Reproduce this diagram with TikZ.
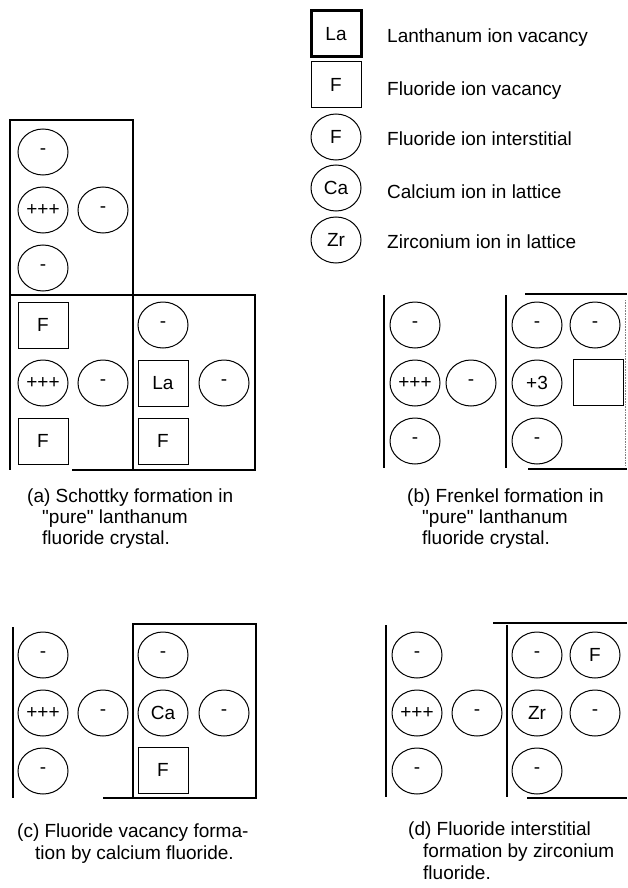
\documentclass[tikz,border=0pt]{standalone}
\usepackage{fontspec}
\setmainfont{Liberation Sans}
\usetikzlibrary{shapes.geometric}

\begin{document}
\begin{tikzpicture}[x=1pt,y=-1pt,
  font=\fontsize{19pt}{21pt}\selectfont,
  ion/.style={ellipse,draw,line width=1pt,minimum width=50pt,minimum height=46pt,inner sep=0pt},
  vac/.style={rectangle,draw,line width=1pt,minimum width=50pt,minimum height=46pt,inner sep=0pt},
  box/.style={line width=1.1pt},
  legtext/.style={anchor=base west,inner sep=0pt},
  figcap/.style={anchor=base west,inner sep=0pt}]
\useasboundingbox (0,0) rectangle (627,888);

% key
\node [vac,line width=3pt] (keyLa) at (336,34) {La};
\node [vac] (keyF) at (336,85) {F};
\node [ion] (keyFi) at (336,137) {F};
\node [ion] (keyCa) at (336,188) {Ca};
\node [ion] (keyZr) at (336,240) {Zr};
\node [legtext] (txtLa) at (387,43) {Lanthanum ion vacancy};
\node [legtext] (txtF) at (387,96) {Fluoride ion vacancy};
\node [legtext] (txtFi) at (387,146) {Fluoride ion interstitial};
\node [legtext] (txtCa) at (387,198) {Calcium ion in lattice};
\node [legtext] (txtZr) at (387,248) {Zirconium ion in lattice};

% (a) Schottky
\draw [box] (10,120) rectangle (133,295);
\draw [box] (10,295)--(10,470);
\draw [box] (133,295)--(133,470);
\draw [box] (72,470)--(255,470)--(255,295)--(10,295);

\node [ion] (a1) at (43,152) {-};
\node [ion] (a2) at (43,210) {+++};
\node [ion] (a3) at (103,210) {-};
\node [ion] (a4) at (43,268) {-};

\node [vac] (a5) at (43,325) {F};
\node [ion] (a6) at (43,383) {+++};
\node [ion] (a7) at (103,383) {-};
\node [vac] (a8) at (43,441) {F};

\node [ion] (a9) at (163,325) {-};
\node [vac] (a10) at (163,383) {La};
\node [ion] (a11) at (224,383) {-};
\node [vac] (a12) at (163,441) {F};

\node [figcap] (capa1) at (27,502) {(a) Schottky formation in};
\node [figcap] (capa2) at (42,523) {\textquotedbl pure\textquotedbl{} lanthanum};
\node [figcap] (capa3) at (42,544) {fluoride crystal.};

% (b) Frenkel
\draw [box] (384,295)--(384,468);
\draw [box] (506,295)--(506,468);
\draw [box] (525,294)--(627,294);
\draw [box] (528,469)--(627,469);
\draw [line width=0.6pt,densely dotted,gray] (625,300)--(625,466);

\node [ion] (b1) at (415,325) {-};
\node [ion] (b2) at (415,383) {+++};
\node [ion] (b3) at (415,441) {-};
\node [ion] (b4) at (471,383) {-};

\node [ion] (b5) at (537,325) {-};
\node [ion] (b6) at (595,325) {-};
\node [ion] (b7) at (537,383) {+3};
\node [vac] (b8) at (598,382) {};
\node [ion] (b9) at (537,441) {-};

\node [figcap] (capb1) at (407,502) {(b) Frenkel formation in};
\node [figcap] (capb2) at (422,523) {\textquotedbl pure\textquotedbl{} lanthanum};
\node [figcap] (capb3) at (422,544) {fluoride crystal.};

% (c) calcium fluoride
\draw [box] (13,627)--(13,798);
\draw [box] (103,798)--(133,798);
\draw [box] (133,624) rectangle (256,798);

\node [ion] (c1) at (43,655) {-};
\node [ion] (c2) at (43,713) {+++};
\node [ion] (c3) at (43,771) {-};
\node [ion] (c4) at (103,713) {-};

\node [ion] (c5) at (163,655) {-};
\node [ion] (c6) at (163,713) {Ca};
\node [ion] (c7) at (224,713) {-};
\node [vac] (c8) at (163,770) {F};

\node [figcap] (capc1) at (17,837) {(c) Fluoride vacancy forma-};
\node [figcap] (capc2) at (35,859) {tion by calcium fluoride.};

% (d) zirconium fluoride
\draw [box] (386,625)--(386,797);
\draw [box] (507,625)--(507,797);
\draw [box] (493,623)--(627,623);
\draw [box] (527,798)--(627,798);

\node [ion] (d1) at (417,655) {-};
\node [ion] (d2) at (417,713) {+++};
\node [ion] (d3) at (417,771) {-};
\node [ion] (d4) at (477,713) {-};

\node [ion] (d5) at (537,655) {-};
\node [ion] (d6) at (595,655) {F};
\node [ion] (d7) at (537,713) {Zr};
\node [ion] (d8) at (595,713) {-};
\node [ion] (d9) at (537,771) {-};

\node [figcap] (capd1) at (408,835) {(d) Fluoride interstitial};
\node [figcap] (capd2) at (423,857) {formation by zirconium};
\node [figcap] (capd3) at (423,879) {fluoride.};

%\node (lbl) at (300,880) {};
\end{tikzpicture}
\end{document}
